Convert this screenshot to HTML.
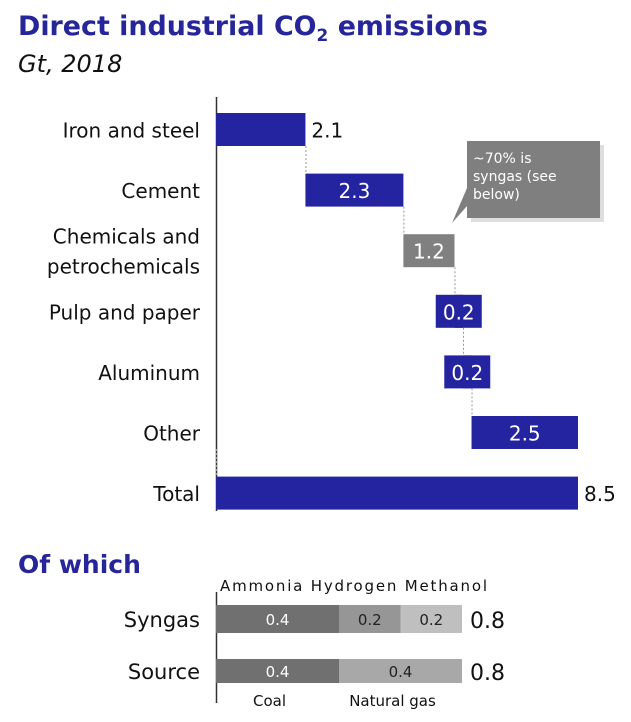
<!DOCTYPE html>
<html><head><meta charset="utf-8"><style>
html,body{margin:0;padding:0;background:#fff;}
svg{display:block;font-family:"DejaVu Sans","Liberation Sans",sans-serif;}
</style></head><body>
<svg id="chart" width="631" height="722" viewBox="0 0 631 722" xmlns="http://www.w3.org/2000/svg">
<text x="18" y="35" font-size="27" font-weight="bold" fill="#26269a" textLength="470" lengthAdjust="spacingAndGlyphs">Direct industrial CO<tspan font-size="17" dy="6">2</tspan><tspan dy="-6"> emissions</tspan></text>
<text x="18" y="72" font-size="24" font-style="italic" fill="#111">Gt, 2018</text>
<line x1="216.5" y1="97" x2="216.5" y2="511" stroke="#333" stroke-width="1.5"/>
<g id="wf"></g>
<g>
<rect x="471" y="145" width="133" height="77" fill="#c8c8c8" opacity="0.6"/>
<polygon points="467,188 467,206 452,223" fill="#7f7f7f"/>
<rect x="467" y="141" width="133" height="77" fill="#7f7f7f"/>
<text x="473" y="163" font-size="14" fill="#fff">~70% is</text>
<text x="473" y="181" font-size="14" fill="#fff">syngas (see</text>
<text x="473" y="199" font-size="14" fill="#fff">below)</text>
</g>
<text x="18" y="573" font-size="25" font-weight="bold" fill="#26269a">Of which</text>
<line x1="216.5" y1="592" x2="216.5" y2="703" stroke="#333" stroke-width="1.5"/>
<g id="bot"></g>
</svg>
<script>
const categories = ["Iron and steel","Cement","Chemicals and|petrochemicals","Pulp and paper","Aluminum","Other","Total"];
const values = [2.1,2.3,1.2,0.2,0.2,2.5,8.5];
const barColors = ["#2424a0","#2424a0","#808080","#2424a0","#2424a0","#2424a0","#2424a0"];
const syngasLabels = ["Ammonia","Hydrogen","Methanol"];
const syngasValues = [0.4,0.2,0.2];
const sourceLabels = ["Coal","Natural gas"];
const sourceValues = [0.4,0.4];

const NS="http://www.w3.org/2000/svg";
function mk(tag,attrs,parent){const e=document.createElementNS(NS,tag);for(const k in attrs)e.setAttribute(k,attrs[k]);parent.appendChild(e);return e;}
const x0=216, unit=362/8.5;
const xs=v=>x0+v*unit;
const rowY=i=>113+i*60.6, bh=33;
const wf=document.getElementById('wf');
let cum=0;
categories.forEach((c,i)=>{
  const isTotal=i===categories.length-1;
  const start=isTotal?0:cum, end=isTotal?values[i]:cum+values[i];
  const y=rowY(i);
  if(i>0){
    const ln=mk('line',{x1:xs(start)+0.5,y1:rowY(i-1)+bh,x2:xs(start)+0.5,y2:y,stroke:'#999','stroke-dasharray':'2,2'},wf);
    
    
  }
  const r=mk('rect',{x:xs(start),y:y,width:xs(end)-xs(start),height:bh,fill:barColors[i]},wf);
  
  
  const w=xs(end)-xs(start);
  const cx=xs(start)+w/2;
  if(!(i===0||isTotal) && w<46){
    const bg=mk('rect',{x:cx-23,y:y,width:46,height:bh,fill:barColors[i]},wf);
    
    
  }
  const lbl=mk('text',{'font-size':20},wf);
  
  
  if(i===0||isTotal){lbl.setAttribute('x',xs(end)+6);lbl.setAttribute('fill','#111');}
  else{lbl.setAttribute('x',cx);lbl.setAttribute('text-anchor','middle');lbl.setAttribute('fill','#fff');}
  lbl.setAttribute('y',y+bh/2+8);
  lbl.textContent=values[i].toFixed(1);
  const parts=c.split('|');
  parts.forEach((p,j)=>{
    const t=mk('text',{x:200,y:y+bh/2+8+(parts.length>1?(j-0.5)*30:0),'text-anchor':'end','font-size':20,fill:'#111'},wf);
    
    
    t.textContent=p;
  });
  if(!isTotal)cum=end;
});
const bot=document.getElementById('bot');
const bunit=246/0.8;
const bx=v=>x0+v*bunit;
function stack(vals,labels,y,h,colors,txtColors,name,labelY,perSegLabels){
  let c=0;
  vals.forEach((v,i)=>{
    const r=mk('rect',{x:bx(c),y:y,width:bx(c+v)-bx(c),height:h,fill:colors[i]},bot);
    
    
    const t=mk('text',{x:(bx(c)+bx(c+v))/2,y:y+h/2+6,'text-anchor':'middle','font-size':15,fill:txtColors[i]},bot);
    
    
    t.textContent=v.toFixed(1);
    if(perSegLabels){
      const l=mk('text',{x:(bx(c)+bx(c+v))/2-8,y:labelY,'text-anchor':'middle','font-size':15,fill:'#111'},bot);
      
      
      l.textContent=labels[i];
    }
    c+=v;
  });
  if(!perSegLabels){
    const l=mk('text',{x:220,y:labelY,'font-size':15,fill:'#111',textLength:267,lengthAdjust:'spacing'},bot);
    
    
    l.textContent=labels.join(' ');
  }
  const tot=mk('text',{x:bx(c)+8,y:y+h/2+9,'font-size':22,fill:'#111'},bot);
  
  
  tot.textContent=c.toFixed(1);
  const cl=mk('text',{x:200,y:y+h/2+8,'text-anchor':'end','font-size':21,fill:'#111'},bot);
  
  
  cl.textContent=name.charAt(0).toUpperCase()+name.slice(1);
}
stack(syngasValues,syngasLabels,605,28,["#707070","#969696","#bfbfbf"],["#fff","#222","#222"],'syngas',591,false);
stack(sourceValues,sourceLabels,659,24,["#707070","#a8a8a8"],["#fff","#222"],'source',706,true);
</script>
</body></html>
